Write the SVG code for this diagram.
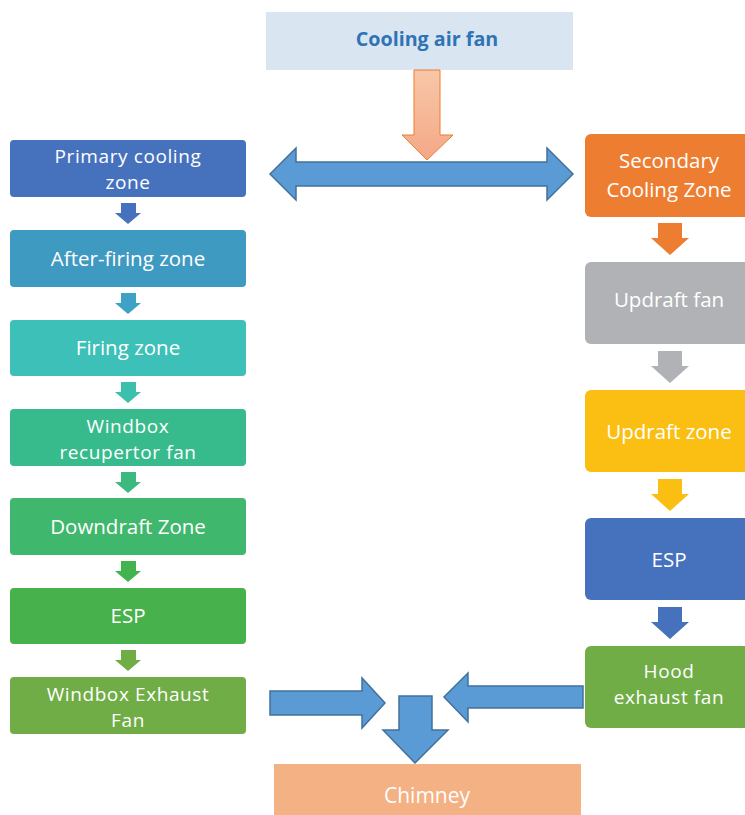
<svg xmlns="http://www.w3.org/2000/svg" width="745" height="815" viewBox="0 0 745 815">
<defs>
<linearGradient id="og" x1="0" y1="0" x2="0" y2="1">
<stop offset="0" stop-color="#f8c7a8"/>
<stop offset="1" stop-color="#f4a886"/>
</linearGradient>
</defs>
<style>
text{font-family:"Open Sans","Liberation Sans",sans-serif;font-size:20.5px;fill:#ffffff;text-anchor:middle}
.t{font-weight:bold;fill:#2e74b5;font-size:19.7px}
.c{font-size:21px}
.m{font-size:19px;letter-spacing:0.6px}
.big{stroke:#41719c;stroke-width:1.5;fill:#5b9bd5}
</style>
<rect width="745" height="815" fill="#ffffff"/>
<g id="cooling-air-fan">
<rect x="266" y="12" width="307" height="58" fill="#dae5f2"/>
<text class="t" x="427" y="46">Cooling air fan</text>
</g>
<g id="primary-cooling-zone">
<rect x="10" y="140" width="236" height="57" rx="4" fill="#4672bd"/>
<text class="m" x="128" y="163">Primary cooling<tspan x="128" dy="26">zone</tspan></text>
</g>
<g id="after-firing-zone">
<rect x="10" y="230" width="236" height="57" rx="4" fill="#3f9ac2"/>
<text x="128" y="266">After-firing zone</text>
</g>
<g id="firing-zone">
<rect x="10" y="320" width="236" height="56" rx="4" fill="#3dc0b7"/>
<text x="128" y="355">Firing zone</text>
</g>
<g id="windbox-recupertor-fan">
<rect x="10" y="409" width="236" height="57" rx="4" fill="#38bb8c"/>
<text class="m" x="128" y="433">Windbox<tspan x="128" dy="26">recupertor fan</tspan></text>
</g>
<g id="downdraft-zone">
<rect x="10" y="498" width="236" height="57" rx="4" fill="#3fb76c"/>
<text x="128" y="534">Downdraft Zone</text>
</g>
<g id="esp-left">
<rect x="10" y="588" width="236" height="56" rx="4" fill="#47b24b"/>
<text x="128" y="623">ESP</text>
</g>
<g id="windbox-exhaust-fan">
<rect x="10" y="677" width="236" height="57" rx="4" fill="#70ad47"/>
<text class="m" x="128" y="701">Windbox Exhaust<tspan x="128" dy="26">Fan</tspan></text>
</g>
<g id="secondary-cooling-zone">
<rect x="585" y="134" width="168" height="83" rx="6" fill="#ed7d31"/>
<text x="669" y="168">Secondary<tspan x="669" dy="29">Cooling Zone</tspan></text>
</g>
<g id="updraft-fan">
<rect x="585" y="262" width="168" height="82" rx="6" fill="#b0b2b6"/>
<text x="669" y="307">Updraft fan</text>
</g>
<g id="updraft-zone">
<rect x="585" y="390" width="168" height="82" rx="6" fill="#fbbf14"/>
<text x="669" y="439">Updraft zone</text>
</g>
<g id="esp-right">
<rect x="585" y="518" width="168" height="82" rx="6" fill="#4672bd"/>
<text x="669" y="567">ESP</text>
</g>
<g id="hood-exhaust-fan">
<rect x="585" y="646" width="168" height="82" rx="6" fill="#70ad47"/>
<text class="m" x="669" y="678">Hood<tspan x="669" dy="26">exhaust fan</tspan></text>
</g>
<g id="chimney">
<rect x="274" y="764" width="307" height="51" fill="#f4b183"/>
<text class="c" x="427" y="803">Chimney</text>
</g>
<g id="connectors">
<polygon points="414,70 440,70 440,135 453,135 427,160 402,135 414,135" fill="url(#og)" stroke="#ed7d31" stroke-width="1"/>
<polygon class="big" points="270,174 296,148 296,162 547,162 547,148 573,174 547,200 547,186 296,186 296,200"/>
<polygon fill="#4672bd" points="121,203 136,203 136,213 141,213 128,224 115,213 121,213"/>
<polygon fill="#3ea2c6" points="121,293 136,293 136,303 141,303 128,314 115,303 121,303"/>
<polygon fill="#3dbfae" points="121,382 136,382 136,392 141,392 128,403 115,392 121,392"/>
<polygon fill="#3cba7e" points="121,472 136,472 136,482 141,482 128,493 115,482 121,482"/>
<polygon fill="#43b34f" points="121,561 136,561 136,571 141,571 128,582 115,571 121,571"/>
<polygon fill="#70ad47" points="121,650 136,650 136,660 141,660 128,671 115,660 121,660"/>
<polygon fill="#ed7d31" points="658,223 682,223 682,238 689,238 670,255 651,238 658,238"/>
<polygon fill="#b0b2b6" points="658,351 682,351 682,366 689,366 670,383 651,366 658,366"/>
<polygon fill="#fbbf14" points="658,479 682,479 682,494 689,494 670,511 651,494 658,494"/>
<polygon fill="#4672bd" points="658,607 682,607 682,622 689,622 670,639 651,622 658,622"/>
<polygon class="big" points="270,691 362,691 362,678 385,703 362,728 362,715 270,715"/>
<polygon class="big" points="583,686 468,686 468,673 444,697 468,722 468,708 583,708"/>
<polygon class="big" points="399,696 432,696 432,730 448,730 415,763 383,730 399,730"/>
</g>
</svg>
